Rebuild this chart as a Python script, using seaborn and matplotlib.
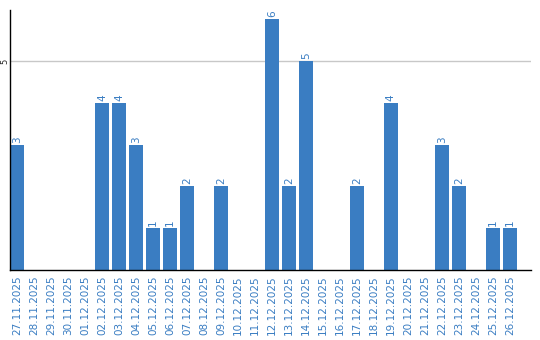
import matplotlib
matplotlib.use("Agg")
import matplotlib.pyplot as plt
import seaborn as sns
import pandas as pd

dates = ["27.11.2025", "28.11.2025", "29.11.2025", "30.11.2025", "01.12.2025",
         "02.12.2025", "03.12.2025", "04.12.2025", "05.12.2025", "06.12.2025",
         "07.12.2025", "08.12.2025", "09.12.2025", "10.12.2025", "11.12.2025",
         "12.12.2025", "13.12.2025", "14.12.2025", "15.12.2025", "16.12.2025",
         "17.12.2025", "18.12.2025", "19.12.2025", "20.12.2025", "21.12.2025",
         "22.12.2025", "23.12.2025", "24.12.2025", "25.12.2025", "26.12.2025"]
values = [3, 0, 0, 0, 0, 4, 4, 3, 1, 1, 2, 0, 2, 0, 0,
          6, 2, 5, 0, 0, 2, 0, 4, 0, 0, 3, 2, 0, 1, 1]
yticks = [5]

BLUE = "#3a7dc2"
sns.set_style("white")
plt.rcParams['font.family'] = ['DejaVu Sans']

df = pd.DataFrame({"date": dates, "value": values})
fig = plt.figure(figsize=(5.4, 3.4), dpi=100)
ax = fig.add_axes([10/540, 70/340, 521/540, 260/340])
sns.barplot(data=df, x="date", y="value", color=BLUE, saturation=1, width=0.82, ax=ax)
for p in ax.patches:
    p.set_edgecolor("none")
for i, v in enumerate(values):
    if v > 0:
        ax.text(i, v + 0.05, str(v), rotation=90, ha="center", va="bottom",
                color=BLUE, fontsize=7.5)

ax.set_xlim(-0.41, 30.24)
ax.set_ylim(0, 6.22)
ax.set_yticks(yticks)
ax.set_yticklabels([str(t) for t in yticks], rotation=90, va="center", fontsize=6)
ax.yaxis.grid(True, color="#c8c8c8", linewidth=1)
ax.set_axisbelow(True)
ax.tick_params(axis="x", rotation=90, labelsize=7.5, labelcolor=BLUE, length=0, pad=4)
ax.tick_params(axis="y", length=0, pad=0.5)
ax.set_xlabel("")
ax.set_ylabel("")
for s in ["top", "right"]:
    ax.spines[s].set_visible(False)
ax.spines["left"].set_color("black")
ax.spines["bottom"].set_color("black")
ax.spines["left"].set_linewidth(1)
ax.spines["bottom"].set_linewidth(1)
fig.savefig("out.png", dpi=100)
